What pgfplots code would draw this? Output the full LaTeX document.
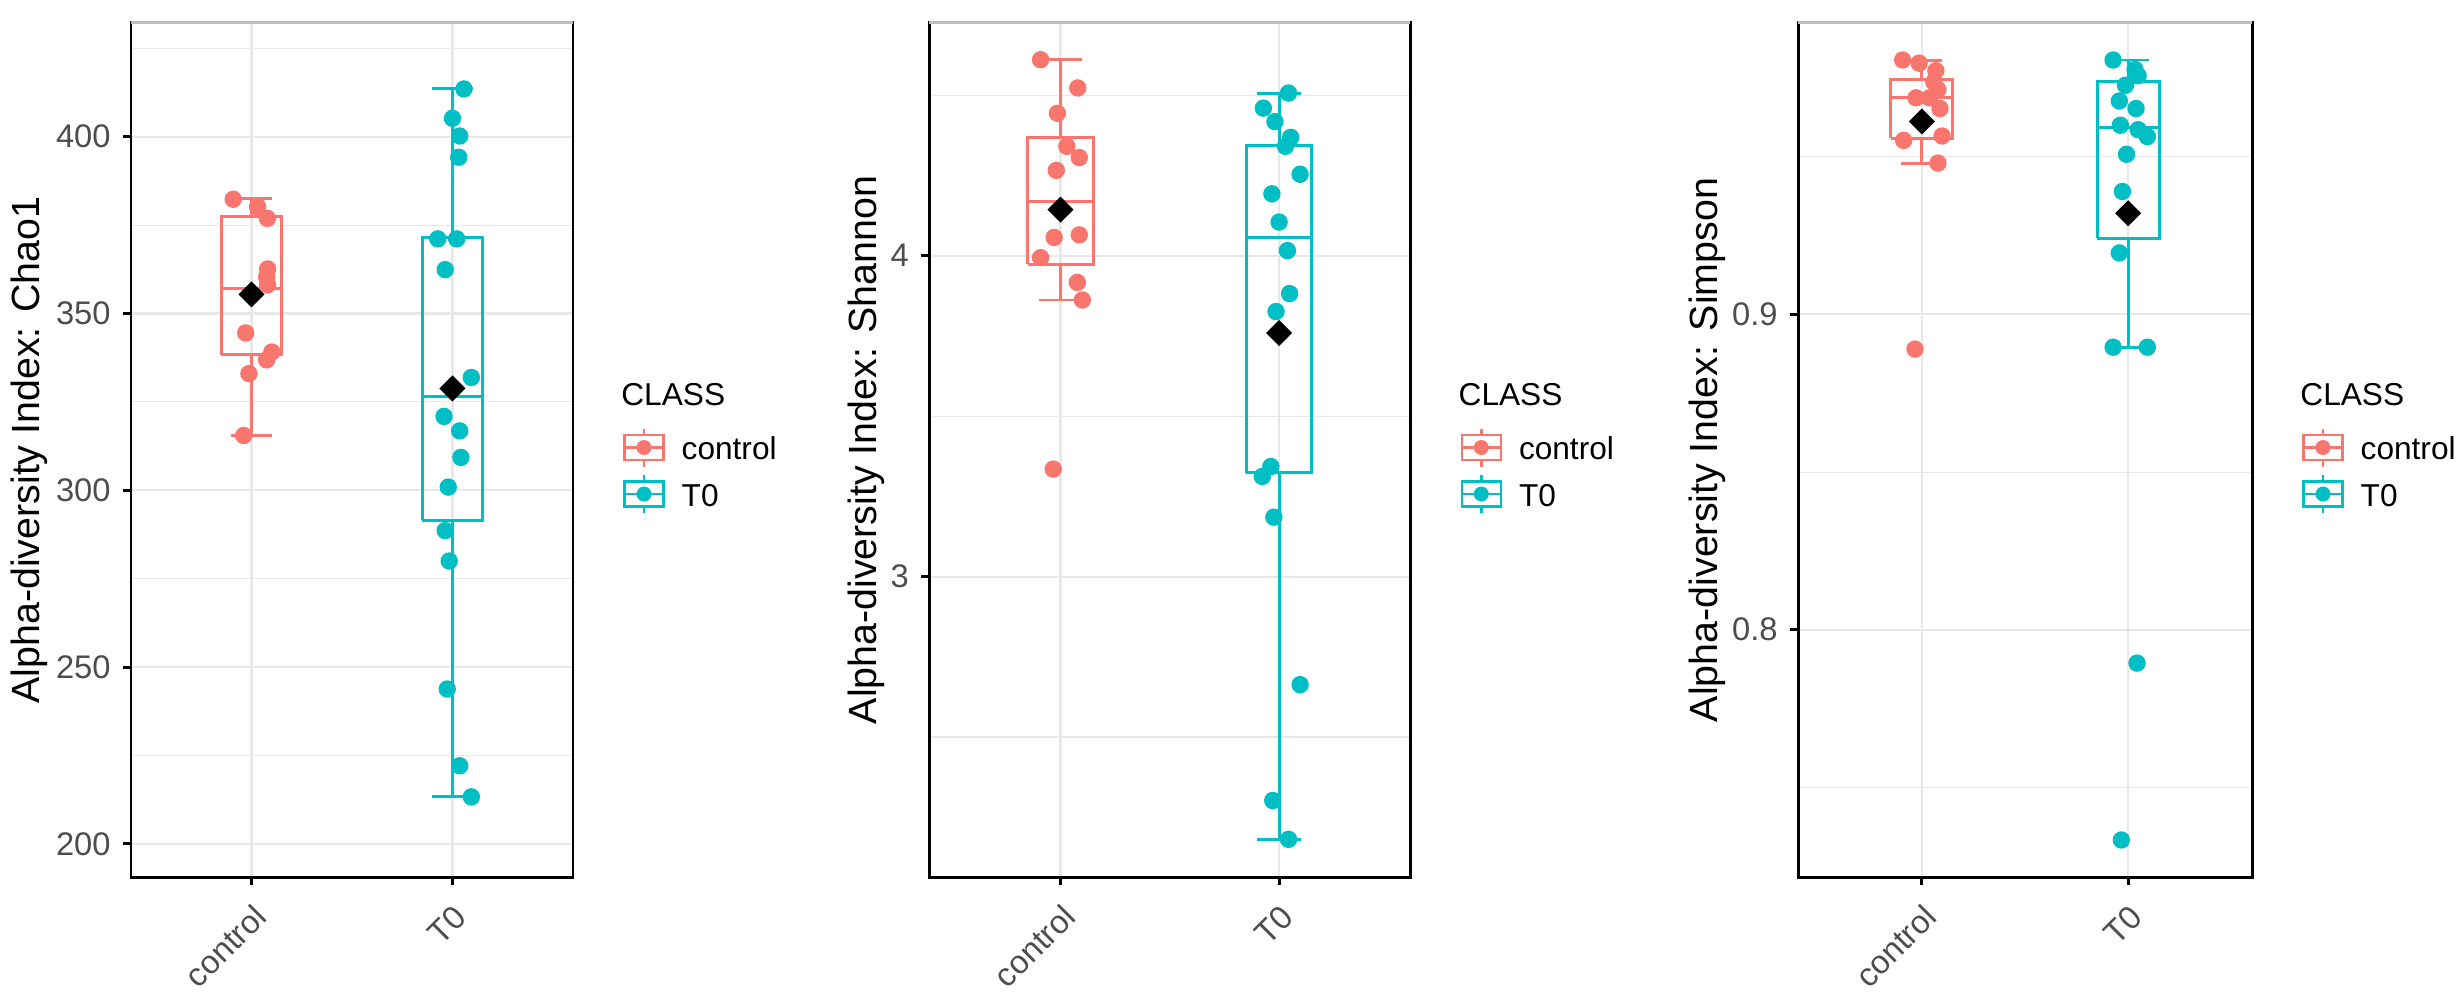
\documentclass[border=0pt]{standalone}
\usepackage{pgfplots}
\pgfplotsset{compat=1.18}
\usepackage{fontspec}
\setmainfont{Liberation Sans}
\definecolor{ctrl}{HTML}{F8766D}
\definecolor{tzero}{HTML}{00BFC4}
\definecolor{gridc}{HTML}{E8E8E8}
\definecolor{tickc}{HTML}{4D4D4D}
\newcommand{\legfont}{\fontsize{9}{11}\selectfont}
\newcommand{\keyglyph}[1]{\tikz[baseline=0pt]{%
  \draw[#1, line width=0.75pt] (0mm,-1.25mm) rectangle (3.9mm,1.25mm);
  \draw[#1, line width=0.75pt] (0mm,0mm) -- (3.9mm,0mm);
  \draw[#1, line width=0.75pt] (1.95mm,1.25mm) -- (1.95mm,1.9mm);
  \draw[#1, line width=0.75pt] (1.95mm,-1.25mm) -- (1.95mm,-1.9mm);
  \fill[#1] (1.95mm,0mm) circle (0.75mm);}}
\newcommand{\legendblock}{%
  \draw[gridc!60!gray, line width=0.85pt] (rel axis cs:0,1) -- (rel axis cs:1,1);
  \node[anchor=base west, inner sep=0pt, font=\legfont, xshift=4.77mm] at (rel axis cs:1,0.5515) {CLASS};
  \node[anchor=west, inner sep=0pt, xshift=4.95mm] at (rel axis cs:1,0.5029) {\keyglyph{ctrl}};
  \node[anchor=west, inner sep=0pt, xshift=4.95mm] at (rel axis cs:1,0.4485) {\keyglyph{tzero}};
  \node[anchor=base west, inner sep=0pt, font=\legfont, xshift=10.8mm] at (rel axis cs:1,0.4883) {control};
  \node[anchor=base west, inner sep=0pt, font=\legfont, xshift=10.8mm] at (rel axis cs:1,0.4339) {T0};
}
\pgfplotsset{
  panel/.style={
    scale only axis, height=85.5mm, anchor=south west, clip=false,
    xmin=0.4, xmax=2.6, xtick={1,2}, xticklabels={control,T0},
    xmajorgrids, ymajorgrids, yminorgrids,
    major grid style={draw=gridc, line width=0.6pt},
    minor grid style={draw=gridc, line width=0.3pt},
    axis line style={black, line width=0.85pt},
    major tick style={black, line width=0.85pt},
    minor tick style={draw=none},
    tick align=outside, major tick length=0.8mm,
    tick pos=left,
    unbounded coords=jump,
    /pgf/number format/assume math mode=true,
    ticklabel style={font=\fontsize{9.3}{11}\selectfont, text=tickc},
    xticklabel style={rotate=45, anchor=north east},
    ylabel style={font=\fontsize{11.2}{13}\selectfont, anchor=center},
  },
  pts/.style={only marks, mark=*, mark size=0.8mm, mark options={draw=#1, fill=#1}, forget plot},
  meanpt/.style={only marks, mark=square*, mark size=0.85mm, mark options={rotate=45, draw=black, fill=black}, forget plot},
  bx/.style={draw=#1, line width=0.85pt, solid, no marks, line join=miter, forget plot},
}
\begin{document}
\begin{tikzpicture}
\path[use as bounding box] (0,0) rectangle (246.1mm,99.3mm);
% ---------------- Panel 1: Chao1
\begin{axis}[panel, at={(13.1mm,11.55mm)}, width=44.2mm,
  ymin=190.5, ymax=432.3, ytick={200,250,300,350,400}, minor ytick={225,275,325,375,425},
  ylabel={Alpha-diversity Index: Chao1},
  ylabel style={at={(axis description cs:-0.2308,0.5)}}]
% box: lower quartile rectangle, median, whiskers and caps
\addplot[bx=ctrl] coordinates {(0.85,338.4) (1.15,338.4) (1.15,377.3) (0.85,377.3) (0.85,338.4) (nan,nan)
 (0.85,357.2) (1.15,357.2) (nan,nan) (1,377.3) (1,382.6) (nan,nan) (0.9,382.6) (1.1,382.6) (nan,nan)
 (1,338.4) (1,315.5) (nan,nan) (0.9,315.5) (1.1,315.5)};
\addplot[bx=tzero] coordinates {(1.85,291.5) (2.15,291.5) (2.15,371.4) (1.85,371.4) (1.85,291.5) (nan,nan)
 (1.85,326.5) (2.15,326.5) (nan,nan) (2,371.4) (2,413.5) (nan,nan) (1.9,413.5) (2.1,413.5) (nan,nan)
 (2,291.5) (2,213.3) (nan,nan) (1.9,213.3) (2.1,213.3)};
\addplot[pts=ctrl] coordinates {
(0.909,382.3) (1.030,380.2) (1.079,376.9) (1.080,362.6) (1.075,360.3) (1.080,358.1)
(0.971,344.5) (1.101,339.1) (1.075,336.9) (0.987,333.0) (0.961,315.5)};
\addplot[pts=tzero] coordinates {
(2.057,413.5) (2.000,405.2) (2.036,400.2) (2.031,394.2) (1.927,371.1) (2.021,371.1)
(1.964,362.4) (2.094,331.9) (1.958,320.9) (2.036,316.8) (2.042,309.3) (1.979,300.9)
(1.964,288.6) (1.984,280.0) (1.974,243.8) (2.036,222.1) (2.094,213.3)};
\addplot[meanpt] coordinates {(1,355.4) (2,328.8)};
\legendblock
\end{axis}
% ---------------- Panel 2: Shannon
\begin{axis}[panel, at={(92.93mm,11.55mm)}, width=48.1mm,
  ymin=2.062, ymax=4.727, ytick={3,4}, minor ytick={2.5,3.5,4.5},
  ylabel={Alpha-diversity Index: Shannon},
  ylabel style={at={(axis description cs:-0.130,0.5)}}]
\addplot[bx=ctrl] coordinates {(0.85,3.974) (1.15,3.974) (1.15,4.369) (0.85,4.369) (0.85,3.974) (nan,nan)
 (0.85,4.168) (1.15,4.168) (nan,nan) (1,4.369) (1,4.611) (nan,nan) (0.9,4.611) (1.1,4.611) (nan,nan)
 (1,3.974) (1,3.862) (nan,nan) (0.9,3.862) (1.1,3.862)};
\addplot[bx=tzero] coordinates {(1.85,3.323) (2.15,3.323) (2.15,4.345) (1.85,4.345) (1.85,3.323) (nan,nan)
 (1.85,4.057) (2.15,4.057) (nan,nan) (2,4.345) (2,4.507) (nan,nan) (1.9,4.507) (2.1,4.507) (nan,nan)
 (2,3.323) (2,2.181) (nan,nan) (1.9,2.181) (2.1,2.181)};
\addplot[pts=ctrl] coordinates {
(0.909,4.611) (1.079,4.523) (0.986,4.444) (1.029,4.341) (1.086,4.306) (0.981,4.266)
(0.971,4.057) (1.086,4.065) (0.909,3.994) (1.077,3.917) (1.100,3.862) (0.967,3.335)};
\addplot[pts=tzero] coordinates {
(2.043,4.507) (1.928,4.460) (1.981,4.418) (2.053,4.369) (2.029,4.341) (2.096,4.254)
(1.967,4.193) (2.000,4.105) (2.038,4.016) (2.048,3.882) (1.986,3.826) (1.962,3.343)
(1.923,3.312) (1.976,3.185) (2.096,2.663) (1.971,2.302) (2.043,2.181)};
\addplot[meanpt] coordinates {(1,4.144) (2,3.759)};
\legendblock
\end{axis}
% ---------------- Panel 3: Simpson
\begin{axis}[panel, at={(179.8mm,11.55mm)}, width=45.4mm,
  ymin=0.7214, ymax=0.9926, ytick={0.8,0.9}, minor ytick={0.75,0.85,0.95},
  ylabel={Alpha-diversity Index: Simpson},
  ylabel style={at={(axis description cs:-0.2004,0.5)}}]
\addplot[bx=ctrl] coordinates {(0.85,0.9559) (1.15,0.9559) (1.15,0.9744) (0.85,0.9744) (0.85,0.9559) (nan,nan)
 (0.85,0.9689) (1.15,0.9689) (nan,nan) (1,0.9744) (1,0.9806) (nan,nan) (0.9,0.9806) (1.1,0.9806) (nan,nan)
 (1,0.9559) (1,0.9478) (nan,nan) (0.9,0.9478) (1.1,0.9478)};
\addplot[bx=tzero] coordinates {(1.85,0.9241) (2.15,0.9241) (2.15,0.9738) (1.85,0.9738) (1.85,0.9241) (nan,nan)
 (1.85,0.9594) (2.15,0.9594) (nan,nan) (2,0.9738) (2,0.9807) (nan,nan) (1.9,0.9807) (2.1,0.9807) (nan,nan)
 (2,0.9241) (2,0.8894) (nan,nan) (1.9,0.8894) (2.1,0.8894)};
\addplot[pts=ctrl] coordinates {
(0.907,0.9807) (0.987,0.9797) (1.068,0.9773) (1.058,0.9737) (1.078,0.9713) (0.972,0.9687)
(1.038,0.9687) (1.088,0.9653) (0.912,0.9552) (1.098,0.9566) (1.078,0.9480) (0.967,0.8890)};
\addplot[pts=tzero] coordinates {
(1.927,0.9807) (2.033,0.9777) (2.048,0.9757) (1.987,0.9727) (1.957,0.9677) (2.038,0.9653)
(1.962,0.9600) (2.048,0.9586) (2.093,0.9564) (1.992,0.9508) (1.972,0.9390) (1.957,0.9195)
(1.927,0.8896) (2.093,0.8896) (2.043,0.7894) (1.967,0.7333)};
\addplot[meanpt] coordinates {(1,0.9612) (2,0.9321)};
\legendblock
\end{axis}
\end{tikzpicture}
\end{document}
